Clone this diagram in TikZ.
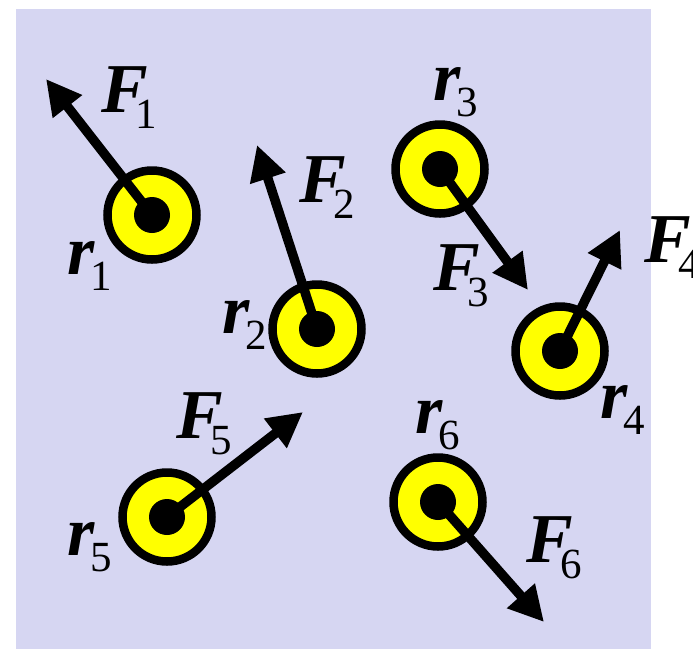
\documentclass[tikz,border=0pt]{standalone}
\usepackage{fontspec}
\setmainfont{Liberation Serif}
\usetikzlibrary{arrows.meta}
\definecolor{bgcol}{RGB}{214,214,242}
\definecolor{ballcol}{RGB}{255,255,0}
\newcommand\subdig[1]{\raisebox{-16pt}{\fontsize{43}{43}\selectfont #1}}
\newcommand\Flab[1]{\textbf{\textit{F}}\kern-12pt\subdig{#1}}
\newcommand\rlab[1]{\textbf{\textit{r}}\kern-4pt\subdig{#1}}
\tikzset{
  particle/.style={circle, draw=black, fill=ballcol, line width=8.5pt, minimum size=89pt, inner sep=0pt,
    path picture={\fill[black] (path picture bounding box.center) circle (18pt);}},
  force/.style={line width=9.5pt, -{Triangle[length=35pt,width=35pt]}},
  lab/.style={anchor=base west, inner sep=0pt, font=\fontsize{70}{72}\selectfont}
}
\begin{document}
\begin{tikzpicture}[x=1pt,y=-1pt]
\useasboundingbox (0,0) rectangle (693,649);
\fill[bgcol] (16,9) rectangle (651,649);
% particles
\node[particle] (p1) at (152,215) {};
\node[particle] (p2) at (317,329) {};
\node[particle] (p3) at (440,169) {};
\node[particle] (p4) at (560,351) {};
\node[particle] (p5) at (167,517) {};
\node[particle] (p6) at (438,502) {};
% arrow tips
\coordinate (t1) at (46,79);
\coordinate (t2) at (257,145);
\coordinate (t3) at (528,290);
\coordinate (t4) at (620,230);
\coordinate (t5) at (303,412);
\coordinate (t6) at (544,622);
\draw[force] (p1.center) -- (t1);
\draw[force] (p2.center) -- (t2);
\draw[force] (p3.center) -- (t3);
\draw[force] (p4.center) -- (t4);
\draw[force] (p5.center) -- (t5);
\draw[force] (p6.center) -- (t6);
% labels
\node[lab] (F1) at (101,112) {\Flab{1}};
\node[lab] (F2) at (299,202) {\Flab{2}};
\node[lab] (F3) at (433,290) {\Flab{3}};
\node[lab] (F4) at (644,262) {\Flab{4}};
\node[lab] (F5) at (176,438) {\Flab{5}};
\node[lab] (F6) at (526,562) {\Flab{6}};
\node[lab] (r1) at (67,274) {\rlab{1}};
\node[lab] (r2) at (222,333) {\rlab{2}};
\node[lab] (r3) at (433,100) {\rlab{3}};
\node[lab] (r4) at (600,418) {\rlab{4}};
\node[lab] (r5) at (67,555) {\rlab{5}};
\node[lab] (r6) at (415,433) {\rlab{6}};
\end{tikzpicture}
\end{document}
